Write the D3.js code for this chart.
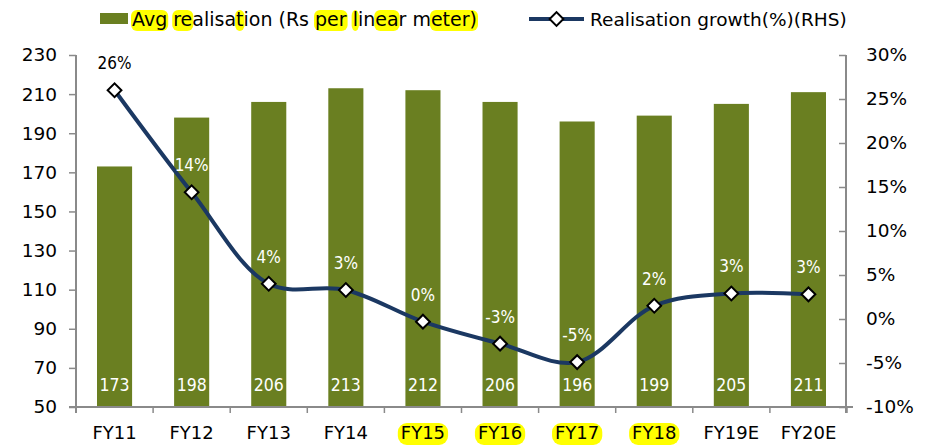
<!DOCTYPE html>
<html><head><meta charset="utf-8">
<script src="https://cdn.jsdelivr.net/npm/d3@7"></script>
<style>body{margin:0;background:#fff} svg{display:block}</style>
</head><body><svg id="c" width="933" height="446"></svg>
<script>
const categories = ["FY11","FY12","FY13","FY14","FY15","FY16","FY17","FY18","FY19E","FY20E"];
const realisation = [173,198,206,213,212,206,196,199,205,211];
const growth = [26.0,14.4,4.0,3.3,-0.3,-2.8,-4.9,1.5,2.9,2.8];
const leftTicks = [50,70,90,110,130,150,170,190,210,230];
const rightTicks = [-10,-5,0,5,10,15,20,25,30];
const highlightedCats = ["FY15","FY16","FY17","FY18"];
const legendLabels = ["Avg realisation (Rs per linear meter)","Realisation growth(%)(RHS)"];
const legendHighlights = [[0,3],[4,6],[11,12],[20,23],[24,25],[27,29],[32,37]];

const BAR = "#6a7f21", LINE = "#1b3862", AXIS = "#8a8a8a", HL = "#ffff00";
const FONT = "DejaVu Sans", FONTC = "DejaVu Sans Condensed";

const svg = d3.select("#c");
const x = d3.scaleBand().domain(categories).range([76, 847]).padding(0);
const y = d3.scaleLinear().domain([50, 230]).range([407, 55]);
const y2 = d3.scaleLinear().domain([-10, 30]).range([407, 55]);
const bw = x.bandwidth() * 0.455;
const data = categories.map((c, i) => ({c, v: realisation[i], g: growth[i]}));

// Bars
svg.append("g").selectAll("rect").data(data).join("rect")
  .attr("x", d => x(d.c) + (x.bandwidth() - bw) / 2)
  .attr("width", bw)
  .attr("y", d => y(d.v))
  .attr("height", d => y(50) - y(d.v))
  .attr("fill", BAR);

// Axes
const gl = svg.append("g").attr("transform", "translate(76,0)")
  .call(d3.axisLeft(y).tickValues(leftTicks).tickSize(7).tickPadding(12).tickSizeOuter(0));
const gr = svg.append("g").attr("transform", "translate(846,0)")
  .call(d3.axisRight(y2).tickValues(rightTicks).tickSize(-7).tickPadding(20).tickSizeOuter(0)
    .tickFormat(d => d + "%"));
[gl, gr].forEach(g => {
  g.select(".domain").remove();
  g.selectAll(".tick line").attr("stroke", AXIS).attr("stroke-width", 1.5);
  g.selectAll(".tick text").attr("fill", "#000").style("font-family", FONT).style("font-size", "18.5px");
});
gr.selectAll(".tick text").attr("text-anchor", "start");
const axes = svg.append("g").attr("stroke", AXIS).attr("stroke-width", 2).attr("fill", "none");
axes.append("line").attr("x1", 76).attr("x2", 76).attr("y1", y(230)).attr("y2", y(50) + 6);
axes.append("line").attr("x1", 846).attr("x2", 846).attr("y1", y(230)).attr("y2", y(50) + 6);
axes.append("line").attr("x1", 69).attr("x2", 853).attr("y1", y(50)).attr("y2", y(50));
const bounds = categories.map(c => x(c)).concat([x.range()[1]]);
axes.selectAll(".bt").data(bounds).join("line").attr("class", "bt")
  .attr("stroke-width", 1.5)
  .attr("x1", d => d).attr("x2", d => d).attr("y1", y(50)).attr("y2", y(50) + 6);

// X labels with highlights
const xl = svg.append("g");
const xlt = xl.selectAll("g").data(categories).join("g");
xlt.each(function(c) {
  const g = d3.select(this);
  const t = g.append("text").attr("x", x(c) + x.bandwidth() / 2).attr("y", 439)
    .attr("text-anchor", "middle").style("font-family", FONT).style("font-size", "18px").text(c);
  if (highlightedCats.includes(c)) {
    const b = t.node().getBBox();
    g.insert("rect", "text").attr("x", b.x - 3).attr("width", b.width + 6)
      .attr("y", 423).attr("height", 22).attr("rx", 9).attr("fill", HL);
  }
});

// Value labels
svg.append("g").selectAll("text").data(data).join("text")
  .attr("x", d => x(d.c) + x.bandwidth() / 2).attr("y", y(50) - 16)
  .attr("text-anchor", "middle").attr("fill", "#fff")
  .style("font-family", FONTC).style("font-size", "17.5px").text(d => d.v);

// Line
const line = d3.line().x(d => x(d.c) + x.bandwidth() / 2).y(d => y2(d.g)).curve(d3.curveCatmullRom.alpha(0.5));
svg.append("path").datum(data).attr("d", line).attr("fill", "none")
  .attr("stroke", LINE).attr("stroke-width", 4).attr("stroke-linejoin", "round");
const sym = d3.symbol().type(d3.symbolSquare).size(95);
svg.append("g").selectAll("path").data(data).join("path")
  .attr("d", sym())
  .attr("transform", d => `translate(${x(d.c) + x.bandwidth() / 2},${y2(d.g)}) rotate(45)`)
  .attr("fill", "#fff").attr("stroke", "#000").attr("stroke-width", 2);

// Percent labels
svg.append("g").selectAll("text").data(data).join("text")
  .attr("x", d => x(d.c) + x.bandwidth() / 2).attr("y", d => y2(d.g) - 21)
  .attr("text-anchor", "middle")
  .attr("fill", d => (y2(d.g) - 27 > y(d.v)) ? "#fff" : "#000")
  .style("font-family", FONTC).style("font-size", "17px")
  .text(d => Math.round(d.g) + "%");

// Legend
const lg = svg.append("g");
lg.append("rect").attr("x", 100).attr("y", 13).attr("width", 28).attr("height", 11).attr("fill", BAR);
const hlg = lg.append("g");
const lt1 = lg.append("text").attr("x", 132).attr("y", 26).style("font-family", FONT).style("font-size", "19px").text(legendLabels[0]);
const n1 = lt1.node();
legendHighlights.forEach(([s, e]) => {
  const p0 = n1.getStartPositionOfChar(s).x;
  const w = n1.getSubStringLength(s, e - s);
  hlg.append("rect").attr("x", p0 - 1).attr("width", w + 2).attr("y", 10).attr("height", 21)
    .attr("rx", 6).attr("fill", HL);
});
lg.append("line").attr("x1", 529).attr("x2", 584).attr("y1", 19).attr("y2", 19)
  .attr("stroke", LINE).attr("stroke-width", 4);
lg.append("path").attr("d", sym()).attr("transform", "translate(556.5,19) rotate(45)")
  .attr("fill", "#fff").attr("stroke", "#000").attr("stroke-width", 2);
lg.append("text").attr("x", 590).attr("y", 26).style("font-family", FONT).style("font-size", "18.5px").text(legendLabels[1]);
</script></body></html>
